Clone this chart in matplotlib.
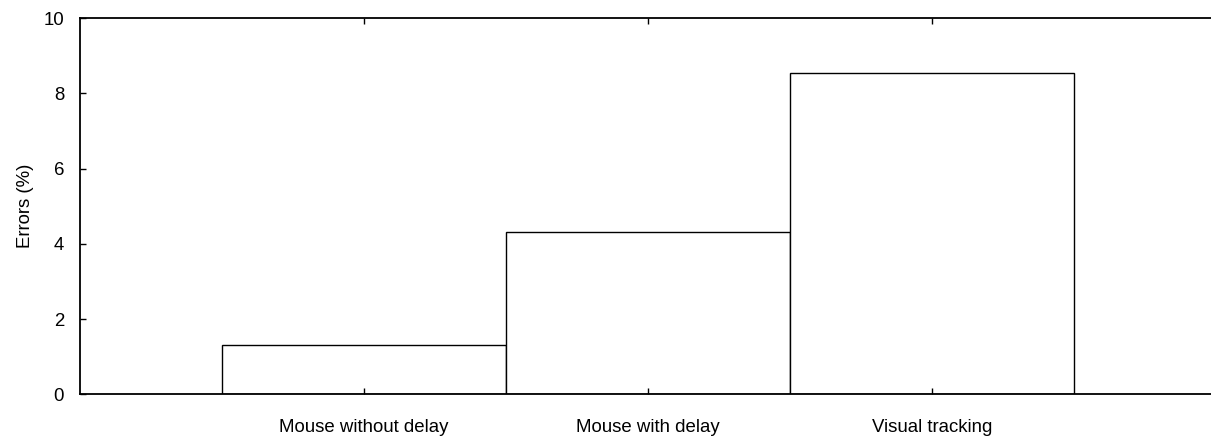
import matplotlib
matplotlib.use('Agg')
import matplotlib.pyplot as plt

# Error rates per input method
categories = ['Mouse without delay', 'Mouse with delay', 'Visual tracking']
errors = [1.31, 4.31, 8.55]

plt.rcParams['font.family'] = ['Liberation Sans', 'DejaVu Sans']

fig = plt.figure(figsize=(12.11, 4.36), dpi=100)
# right edge of the axes sits just outside the picture, as in the original
ax = fig.add_axes([80 / 1211, 41.7 / 436, 1136 / 1211, 376 / 436])

positions = list(range(1, len(categories) + 1))
ax.bar(positions, errors, width=1.0, color='white', edgecolor='black', linewidth=1.0)

ax.set_xlim(0, 4)
ax.set_ylim(0, 10)
ax.set_xticks(positions)
ax.set_xticklabels(categories)
ax.set_yticks([0, 2, 4, 6, 8, 10])
ax.set_ylabel('Errors (%)', fontsize=13.4, labelpad=7)

ax.tick_params(axis='x', direction='in', length=4, width=1, top=True, labelsize=13.4, pad=17.5)
ax.tick_params(axis='y', direction='in', length=4, width=1, right=False, labelsize=13.4, pad=11.5)

for side in ax.spines.values():
    side.set_linewidth(1.3)

fig.savefig('out.png', dpi=100)
